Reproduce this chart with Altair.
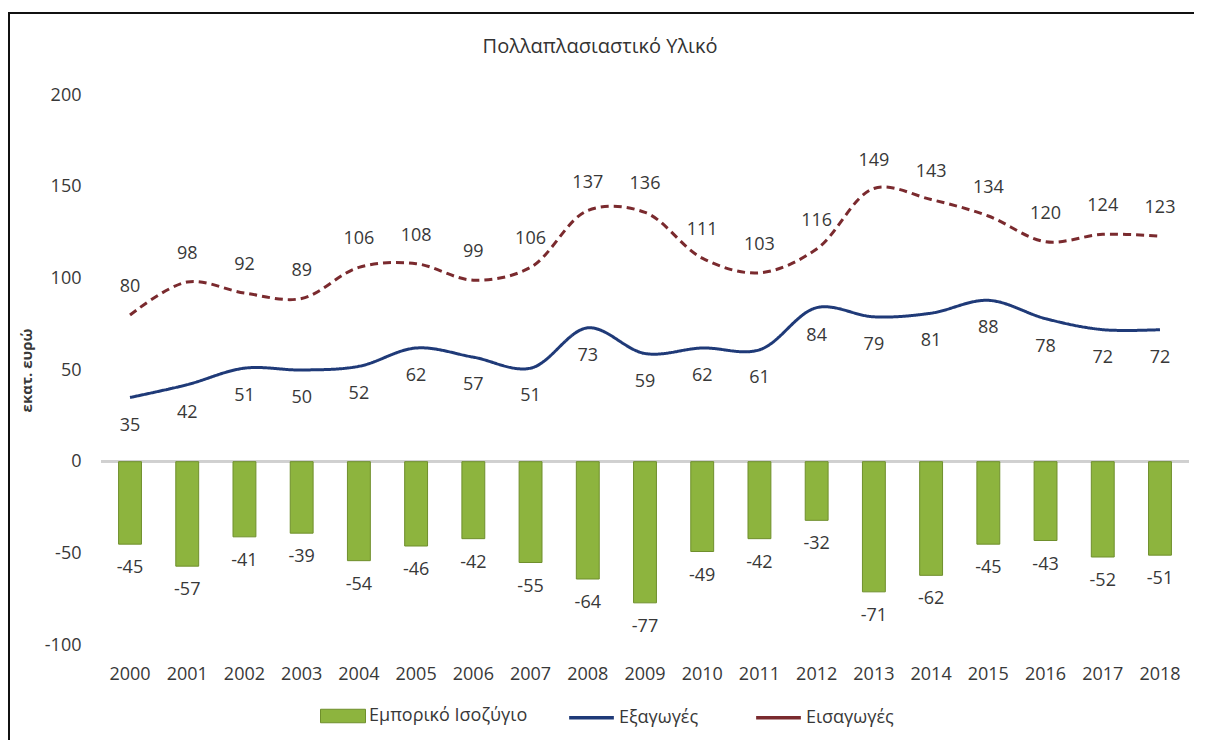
import altair as alt
import pandas as pd

years = [str(y) for y in range(2000, 2019)]
exports = [35, 42, 51, 50, 52, 62, 57, 51, 73, 59, 62, 61, 84, 79, 81, 88, 78, 72, 72]
imports = [80, 98, 92, 89, 106, 108, 99, 106, 137, 136, 111, 103, 116, 149, 143, 134, 120, 124, 123]
balance = [-45, -57, -41, -39, -54, -46, -42, -55, -64, -77, -49, -42, -32, -71, -62, -45, -43, -52, -51]

S_BAL = "Εμπορικό Ισοζύγιο"
S_EXP = "Εξαγωγές"
S_IMP = "Εισαγωγές"

FONT = "Open Sans"
TXT = "#383838"
GREEN = "#8db43e"
GREEN_DARK = "#6f8f2c"
BLUE = "#1f3a78"
RED = "#7a2a2e"

bars_df = pd.DataFrame({"year": years, "value": balance, "series": S_BAL})
bars_df["label"] = [str(v) for v in balance]
lines_df = pd.DataFrame({
    "year": years * 2,
    "value": exports + imports,
    "series": [S_EXP] * len(years) + [S_IMP] * len(years),
})
lines_df["label"] = [str(v) for v in exports + imports]
exp_df = lines_df[lines_df.series == S_EXP]
imp_df = lines_df[lines_df.series == S_IMP]

x_enc = alt.X(
    "year:O",
    title=None,
    scale=alt.Scale(paddingInner=0.6, paddingOuter=0.307),
    axis=alt.Axis(labelAngle=0, ticks=False, domain=False, labelPadding=20,
                  labelFontSize=18, labelColor=TXT, labelFont=FONT),
)
y_scale = alt.Scale(domain=[-100, 200], nice=False, zero=False)
y_enc = alt.Y(
    "value:Q",
    scale=y_scale,
    title="εκατ. ευρώ",
    axis=alt.Axis(values=[-100, -50, 0, 50, 100, 150, 200], grid=False, ticks=False,
                  domain=False, labelPadding=20, labelFontSize=18, labelColor=TXT,
                  labelExpr="toString(datum.value)",
                  labelFont=FONT, titleFont=FONT, titleFontSize=15, titleFontWeight="bold",
                  titleColor=TXT, titlePadding=10),
)

frame = alt.Chart(bars_df).mark_rect(fill=None, stroke="#111111", strokeWidth=2).encode(
    x=alt.value(-92), x2=alt.value(1098), y=alt.value(-82), y2=alt.value(700)
)

bars = alt.Chart(bars_df).mark_bar(stroke=GREEN_DARK, strokeWidth=1).encode(
    x=x_enc,
    y=y_enc,
    fill=alt.Fill("series:N", scale=alt.Scale(domain=[S_BAL], range=[GREEN]),
                  legend=alt.Legend(title=None, orient="none", legendX=219, legendY=598,
                                    symbolType="M-1,-0.3H1V0.3H-1Z", symbolSize=2025,
                                    symbolStrokeColor=GREEN_DARK, symbolStrokeWidth=1,
                                    labelFont=FONT, labelFontSize=18, labelColor=TXT,
                                    labelOffset=3)),
)

bar_labels = alt.Chart(bars_df).mark_text(dy=24, baseline="middle", font=FONT,
                                         fontSize=18, color=TXT).encode(
    x="year:O", y=alt.Y("value:Q", scale=y_scale), text="label:N"
)

zero = alt.Chart(bars_df).mark_rule(color="#d0d0d0", strokeWidth=2).encode(y=alt.datum(0))

lines = alt.Chart(lines_df).mark_line(strokeWidth=3, interpolate="catmull-rom").encode(
    x="year:O",
    y=alt.Y("value:Q", scale=y_scale),
    stroke=alt.Stroke("series:N", scale=alt.Scale(domain=[S_EXP, S_IMP], range=[BLUE, RED]),
                      legend=alt.Legend(title=None, orient="none", direction="horizontal",
                                        legendX=466, legendY=598, symbolType="stroke",
                                        symbolSize=2000, symbolStrokeWidth=3.5,
                                        columnPadding=50, labelFont=FONT, labelFontSize=18,
                                        labelColor=TXT, labelOffset=3)),
    strokeDash=alt.StrokeDash("series:N",
                              scale=alt.Scale(domain=[S_EXP, S_IMP], range=[[1, 0], [8, 5]]),
                              legend=None),
)

exp_labels = alt.Chart(exp_df).mark_text(dy=28, baseline="middle", font=FONT,
                                        fontSize=18, color=TXT).encode(
    x="year:O", y=alt.Y("value:Q", scale=y_scale), text="label:N"
)
imp_labels = alt.Chart(imp_df).mark_text(dy=-28, baseline="middle", font=FONT,
                                        fontSize=18, color=TXT).encode(
    x="year:O", y=alt.Y("value:Q", scale=y_scale), text="label:N"
)

chart = alt.layer(frame, zero, bars, bar_labels, lines, exp_labels, imp_labels).resolve_legend(
    fill="independent", stroke="independent"
).properties(
    width=1088,
    height=550,
    padding={"left": 93, "top": 87, "right": 5, "bottom": 95},
    autosize=alt.AutoSizeParams(type="none"),
    title=alt.TitleParams("Πολλαπλασιαστικό Υλικό", font=FONT, fontSize=20,
                          fontWeight="normal", color="#333333", anchor="middle",
                          dx=-45, offset=-45),
).configure_view(stroke=None)

chart.save("out.html", embed_options={"renderer": "svg", "actions": False})
